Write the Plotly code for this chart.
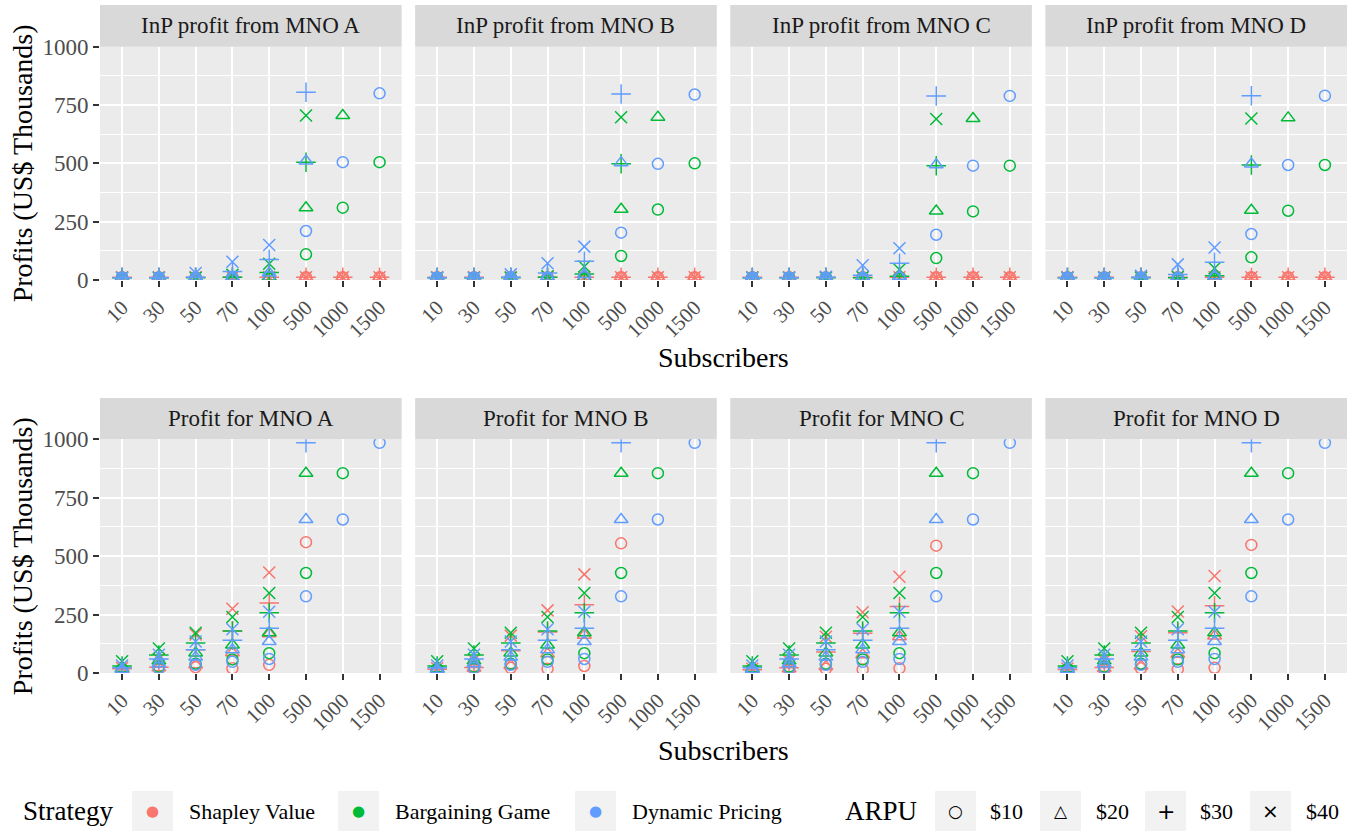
import plotly.graph_objects as go

# ---------------- data ----------------
subscribers = ["10", "30", "50", "70", "100", "500", "1000", "1500"]
strategies = ["Shapley Value", "Bargaining Game", "Dynamic Pricing"]
arpu_labels = ["$10", "$20", "$30", "$40"]
mnos = ["A", "B", "C", "D"]
y_ticks = [0, 250, 500, 750, 1000]

# InP profit from each MNO: rows are ARPU $10, $20, $30, $40 (None = outside plotted range)
inp_A_shapley = [[12, 12, 12, 12, 12, 12, 12, 12], [12, 12, 12, 12, 12, 12, 12, 12],
                 [12, 12, 12, 12, 12, 12, 12, 12], [12, 12, 12, 12, 12, 12, 12, 12]]
inp_A_bargaining = [[10, 10, 10, 10, 10, 110, 310, 505], [10, 10, 10, 10, 12, 310, 705, None],
                    [10, 10, 10, 12, 32, 505, None, None], [10, 10, 10, 22, 70, 705, None, None]]
inp_A_dynamic = [[10, 10, 10, 10, 12, 210, 505, 800], [10, 10, 12, 12, 30, 510, None, None],
                 [10, 10, 12, 36, 88, 805, None, None], [10, 10, 30, 78, 150, None, None, None]]

inp_B_shapley = [[12, 12, 12, 12, 12, 12, 12, 12], [12, 12, 12, 12, 12, 12, 12, 12],
                 [12, 12, 12, 12, 12, 12, 12, 12], [12, 12, 12, 12, 12, 12, 12, 12]]
inp_B_bargaining = [[10, 10, 10, 10, 10, 103, 302, 500], [10, 10, 10, 10, 10, 303, 698, None],
                    [10, 10, 10, 12, 26, 498, None, None], [10, 10, 10, 16, 58, 698, None, None]]
inp_B_dynamic = [[10, 10, 10, 10, 12, 203, 498, 795], [10, 10, 12, 12, 24, 503, None, None],
                 [10, 10, 12, 30, 80, 797, None, None], [10, 10, 24, 72, 143, None, None, None]]

inp_C_shapley = [[12, 12, 12, 12, 12, 12, 12, 12], [12, 12, 12, 12, 12, 12, 12, 12],
                 [12, 12, 12, 12, 12, 12, 12, 12], [12, 12, 12, 12, 12, 12, 12, 12]]
inp_C_bargaining = [[10, 10, 10, 10, 10, 94, 294, 490], [10, 10, 10, 10, 10, 296, 692, None],
                    [10, 10, 10, 10, 16, 490, None, None], [10, 10, 10, 12, 45, 690, None, None]]
inp_C_dynamic = [[10, 10, 10, 10, 10, 194, 490, 789], [10, 10, 10, 12, 16, 494, None, None],
                 [10, 10, 12, 20, 72, 789, None, None], [10, 10, 14, 63, 136, None, None, None]]

inp_D_shapley = [[12, 12, 12, 12, 12, 12, 12, 12], [12, 12, 12, 12, 12, 12, 12, 12],
                 [12, 12, 12, 12, 12, 12, 12, 12], [12, 12, 12, 12, 12, 12, 12, 12]]
inp_D_bargaining = [[10, 10, 10, 10, 10, 97, 297, 493], [10, 10, 10, 10, 10, 299, 695, None],
                    [10, 10, 10, 10, 18, 493, None, None], [10, 10, 10, 14, 50, 692, None, None]]
inp_D_dynamic = [[10, 10, 10, 10, 10, 197, 493, 790], [10, 10, 10, 12, 18, 497, None, None],
                 [10, 10, 12, 24, 76, 790, None, None], [10, 10, 18, 67, 139, None, None, None]]

# Profit for each MNO
mno_A_shapley = [[12, 18, 25, 20, 35, 560, None, None], [15, 22, 35, 87, 168, None, None, None],
                 [18, 25, 100, 180, 300, None, None, None], [22, 60, 165, 275, 430, None, None, None]]
mno_B_shapley = [[12, 16, 22, 18, 30, 555, None, None], [14, 20, 32, 82, 162, None, None, None],
                 [16, 24, 95, 175, 292, None, None, None], [20, 56, 160, 268, 422, None, None, None]]
mno_C_shapley = [[10, 14, 18, 15, 20, 545, None, None], [12, 18, 28, 78, 155, None, None, None],
                 [14, 22, 90, 170, 285, None, None, None], [18, 52, 155, 260, 412, None, None, None]]
mno_D_shapley = [[10, 14, 20, 16, 22, 548, None, None], [12, 19, 30, 80, 158, None, None, None],
                 [15, 23, 92, 172, 288, None, None, None], [19, 54, 157, 263, 415, None, None, None]]
mno_bargaining = [[9, 27, 40, 58, 85, 428, 855, None], [18, 52, 86, 120, 172, 855, None, None],
                  [30, 77, 128, 180, 258, None, None, None], [50, 105, 172, 240, 342, None, None, None]]
mno_dynamic = [[7, 22, 35, 48, 60, 328, 657, 985], [15, 40, 68, 100, 135, 657, None, None],
               [22, 60, 100, 140, 192, 985, None, None], [32, 78, 135, 187, 262, None, None, None]]

panels = [
    ("InP profit from MNO A", [inp_A_shapley, inp_A_bargaining, inp_A_dynamic]),
    ("InP profit from MNO B", [inp_B_shapley, inp_B_bargaining, inp_B_dynamic]),
    ("InP profit from MNO C", [inp_C_shapley, inp_C_bargaining, inp_C_dynamic]),
    ("InP profit from MNO D", [inp_D_shapley, inp_D_bargaining, inp_D_dynamic]),
    ("Profit for MNO A", [mno_A_shapley, mno_bargaining, mno_dynamic]),
    ("Profit for MNO B", [mno_B_shapley, mno_bargaining, mno_dynamic]),
    ("Profit for MNO C", [mno_C_shapley, mno_bargaining, mno_dynamic]),
    ("Profit for MNO D", [mno_D_shapley, mno_bargaining, mno_dynamic]),
]

# ---------------- style ----------------
W, H = 1369, 831
FONT = "Liberation Serif"
colors = ["#F8766D", "#00BA38", "#619CFF"]
symbols = ["circle-open", "triangle-up-open", "cross-thin-open", "x-thin-open"]
sizes = [11, 12, 14, 12]

left, right, gap = 100, 1347, 13.5
pw = (right - left - 3 * gap) / 4
rows_px = [(46.7, 280.0), (439.3, 673.0)]
strip_px = [(5.0, 46.7), (398.0, 439.3)]


def fx(px):
    return px / W


def fy(py):
    return 1 - py / H


fig = go.Figure()
layout = dict(
    width=W, height=H,
    margin=dict(l=0, r=0, t=0, b=0),
    paper_bgcolor="white",
    plot_bgcolor="#EBEBEB",
    font=dict(family=FONT, color="#1A1A1A"),
    showlegend=False,
    shapes=[], annotations=[],
)

for k, (title, series) in enumerate(panels):
    r, c = divmod(k, 4)
    n = k + 1
    xs = "" if n == 1 else str(n)
    x0 = left + c * (pw + gap)
    x1 = x0 + pw
    ytop, ybot = rows_px[r]
    layout["xaxis" + xs] = dict(
        domain=[fx(x0), fx(x1)], anchor="y" + xs, type="category",
        categoryorder="array", categoryarray=subscribers,
        range=[-0.6, 7.6], tickangle=-45,
        showgrid=True, gridcolor="white", gridwidth=1.7,
        ticks="outside", ticklen=6, tickwidth=2, tickcolor="#333333",
        tickfont=dict(family=FONT, size=21, color="#4D4D4D"),
        showline=False, zeroline=False, automargin=False, fixedrange=True,
    )
    layout["yaxis" + xs] = dict(
        domain=[fy(ybot), fy(ytop)], anchor="x" + xs,
        range=[0, 1000], tickvals=y_ticks,
        showticklabels=(c == 0), ticks="outside" if c == 0 else "",
        ticklen=6, tickwidth=2, tickcolor="#333333",
        tickfont=dict(family=FONT, size=23, color="#4D4D4D"),
        showgrid=True, gridcolor="white", gridwidth=1.7,
        minor=dict(dtick=125, tick0=0, showgrid=True, gridcolor="white", gridwidth=0.8, ticks=""),
        showline=False, zeroline=False, automargin=False, fixedrange=True,
    )
    # facet strip
    s0, s1 = strip_px[r]
    layout["shapes"].append(dict(type="rect", xref="paper", yref="paper",
                                 x0=fx(x0), x1=fx(x1), y0=fy(s1), y1=fy(s0),
                                 fillcolor="#D9D9D9", line=dict(width=0), layer="below"))
    layout["annotations"].append(dict(text=title, xref="paper", yref="paper",
                                      x=fx((x0 + x1) / 2), y=fy((s0 + s1) / 2),
                                      showarrow=False, xanchor="center", yanchor="middle",
                                      font=dict(family=FONT, size=23, color="#1A1A1A")))
    for si, strat_vals in enumerate(series):
        for ai, vals in enumerate(strat_vals):
            fig.add_trace(go.Scatter(
                x=subscribers, y=vals, mode="markers", name=f"{strategies[si]} {arpu_labels[ai]}",
                xaxis="x" + xs, yaxis="y" + xs, showlegend=False,
                marker=dict(symbol=symbols[ai], size=sizes[ai], color=colors[si],
                            line=dict(width=1.5, color=colors[si])),
                hovertemplate=f"{strategies[si]}, ARPU {arpu_labels[ai]}<br>%{{x}}: %{{y}}<extra></extra>",
            ))

# axis titles
for r, (ytop, ybot) in enumerate(rows_px):
    layout["annotations"].append(dict(text="Subscribers", xref="paper", yref="paper",
                                      x=fx((left + right) / 2), y=fy(357 if r == 0 else 750),
                                      showarrow=False, xanchor="center", yanchor="middle",
                                      font=dict(family=FONT, size=28, color="black")))
    layout["annotations"].append(dict(text="Profits (US$ Thousands)", xref="paper", yref="paper",
                                      x=fx(22), y=fy((ytop + ybot) / 2), textangle=-90,
                                      showarrow=False, xanchor="center", yanchor="middle",
                                      font=dict(family=FONT, size=28, color="black")))

# ---------------- legend (ggplot-style keys) ----------------
LEG_Y = 811
KEY_W = 41
KEY_H = 40


def add_key(kx, glyph, gcolor, gsize, label, tx):
    layout["shapes"].append(dict(type="rect", xref="paper", yref="paper",
                                 x0=fx(kx), x1=fx(kx + KEY_W), y0=fy(LEG_Y + KEY_H / 2),
                                 y1=fy(LEG_Y - KEY_H / 2), fillcolor="#F2F2F2",
                                 line=dict(width=0), layer="below"))
    layout["annotations"].append(dict(text=glyph, xref="paper", yref="paper",
                                      x=fx(kx + KEY_W / 2), y=fy(LEG_Y), showarrow=False,
                                      xanchor="center", yanchor="middle",
                                      font=dict(family="DejaVu Sans", size=gsize, color=gcolor)))
    layout["annotations"].append(dict(text=label, xref="paper", yref="paper",
                                      x=fx(tx), y=fy(LEG_Y), showarrow=False,
                                      xanchor="left", yanchor="middle",
                                      font=dict(family=FONT, size=22, color="black")))


layout["annotations"].append(dict(text="Strategy", xref="paper", yref="paper", x=fx(21), y=fy(LEG_Y),
                                  showarrow=False, xanchor="left", yanchor="middle",
                                  font=dict(family=FONT, size=27, color="black")))
strat_key_x = [132, 338, 575]
strat_text_x = [187, 393, 630]
for si, s in enumerate(strategies):
    add_key(strat_key_x[si], "●", colors[si], 15, s, strat_text_x[si])

layout["annotations"].append(dict(text="ARPU", xref="paper", yref="paper", x=fx(843), y=fy(LEG_Y),
                                  showarrow=False, xanchor="left", yanchor="middle",
                                  font=dict(family=FONT, size=27, color="black")))
arpu_key_x = [935, 1040, 1145, 1250]
arpu_text_x = [988, 1094, 1198, 1304]
arpu_glyphs = ["○", "△", "+", "×"]
arpu_gsize = [17, 17, 22, 20]
for ai, a in enumerate(arpu_labels):
    add_key(arpu_key_x[ai], arpu_glyphs[ai], "black", arpu_gsize[ai], a, arpu_text_x[ai])

fig.update_layout(**layout)
fig.write_html("out.html", config={"displayModeBar": False},
               post_script="document.body.style.margin='0px';")
